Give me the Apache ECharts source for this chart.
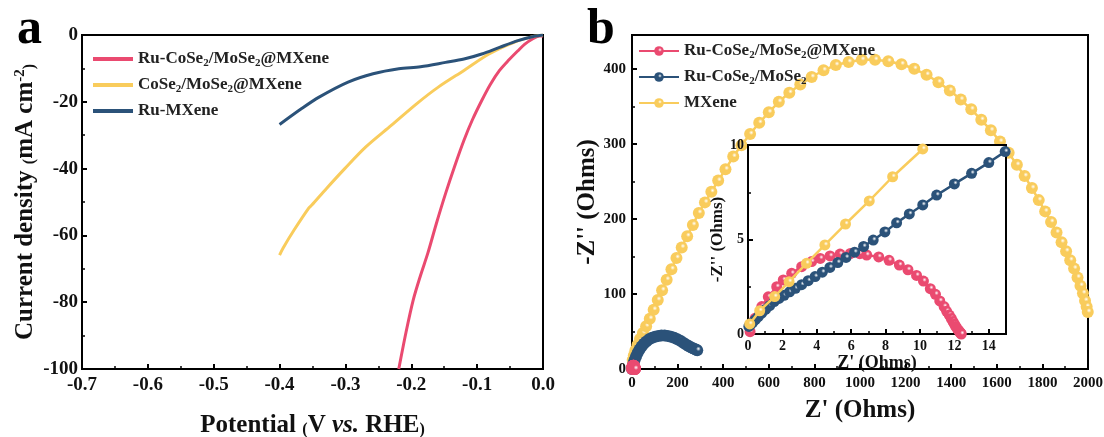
<!DOCTYPE html>
<html><head><meta charset="utf-8">
<script src="https://cdn.jsdelivr.net/npm/echarts@6/dist/echarts.min.js"></script>
<style>html,body{margin:0;padding:0;background:#fff}#c{width:1104px;height:437px}</style>
</head><body><div id="c"></div>
<script>
// ---------- Panel a: LSV ----------
const lsvRuCoX = [0, -0.005, -0.016, -0.028, -0.038, -0.052, -0.066, -0.080, -0.093, -0.107, -0.120, -0.134, -0.148, -0.162, -0.175, -0.186, -0.197, -0.208, -0.219];
const lsvRuCoY = [-0.3, -0.3, -1.2, -2.8, -4.7, -7.5, -10.6, -14.8, -19.6, -25.3, -31.5, -39.2, -47.5, -56.5, -65.4, -72.0, -79.3, -89.0, -100];
const lsvCoX = [0, -0.016, -0.044, -0.082, -0.120, -0.159, -0.192, -0.230, -0.269, -0.301, -0.329, -0.351, -0.356, -0.378, -0.395, -0.400];
const lsvCoY = [0, -0.5, -2.2, -5.7, -10.6, -15.6, -20.6, -27.0, -33.5, -40.0, -46.0, -50.9, -51.9, -58.4, -63.9, -65.9];
const lsvRuMX = [0, -0.016, -0.038, -0.066, -0.093, -0.120, -0.148, -0.186, -0.219, -0.258, -0.296, -0.340, -0.367, -0.400];
const lsvRuMY = [0, -0.5, -1.7, -3.7, -5.7, -7.2, -8.2, -9.5, -10.1, -11.6, -14.1, -18.6, -22.1, -26.8];

// ---------- Panel b: Nyquist ----------
const eisMXeneX = [3, 8, 15, 24, 35, 48, 62, 78, 95, 113, 132, 152, 173, 195, 218, 242, 267, 293, 320, 348, 378, 410, 444, 480, 518, 558, 600, 644, 690, 738, 788, 840, 894, 950, 1008, 1066, 1124, 1182, 1238, 1292, 1344, 1394, 1442, 1488, 1532, 1574, 1614, 1652, 1688, 1722, 1754, 1784, 1812, 1838, 1862, 1884, 1904, 1922, 1939, 1954, 1967, 1978, 1987, 1994, 1999];
const eisMXeneY = [12, 18, 25, 32, 40, 48, 57, 67, 79, 92, 105, 119, 133, 148, 162, 177, 192, 208, 222, 236, 251, 266, 283, 298, 313, 328, 342, 356, 368, 379, 389, 398, 405, 409, 412, 412, 410, 406, 400, 392, 382, 371, 359, 346, 332, 318, 303, 288, 272, 257, 241, 225, 210, 196, 182, 169, 157, 145, 134, 122, 111, 101, 91, 83, 76];
const eisRuCoX = [0, 3, 7, 12, 18, 25, 33, 42, 52, 63, 75, 88, 101, 115, 129, 143, 157, 171, 185, 199, 212, 225, 237, 248, 258, 267, 275, 282, 286];
const eisRuCoY = [0, 4, 8, 12.5, 17, 21.5, 26, 30, 33.5, 36.5, 39.5, 41.5, 43, 44, 44.5, 44.5, 44, 43, 41.5, 39.5, 37.5, 35, 32.5, 30.5, 29, 27.5, 26.5, 25.5, 25];
// inset (low-resistance region)
const insRuCoMxX = [0.12, 0.41, 0.8, 1.18, 1.67, 2.05, 2.54, 3.12, 3.7, 4.2, 4.77, 5.35, 5.95, 6.5, 6.9, 7.6, 8.2, 8.8, 9.3, 9.8, 10.2, 10.6, 10.9, 11.15, 11.4, 11.55, 11.7, 11.82, 11.92, 12.0, 12.08, 12.15, 12.22, 12.28, 12.33, 12.37, 12.4];
const insRuCoMxY = [0.12, 0.83, 1.45, 1.97, 2.5, 2.86, 3.21, 3.56, 3.83, 4.0, 4.13, 4.23, 4.26, 4.25, 4.18, 4.08, 3.9, 3.65, 3.4, 3.1, 2.8, 2.4, 2.1, 1.75, 1.45, 1.2, 1.0, 0.82, 0.66, 0.52, 0.4, 0.3, 0.21, 0.14, 0.08, 0.04, 0];
const insRuCoX = [0.05, 0.15, 0.28, 0.43, 0.6, 0.8, 1.02, 1.26, 1.52, 1.8, 2.1, 2.42, 2.76, 3.12, 3.5, 3.9, 4.32, 4.76, 5.22, 5.7, 6.2, 6.72, 7.28, 7.96, 8.64, 9.38, 10.16, 10.97, 12.0, 13.0, 14.0, 14.95, 15.95];
const insRuCoY = [0.4, 0.5, 0.62, 0.76, 0.92, 1.1, 1.3, 1.5, 1.72, 1.88, 2.05, 2.23, 2.42, 2.61, 2.82, 3.04, 3.27, 3.52, 3.78, 4.05, 4.33, 4.63, 4.97, 5.4, 5.88, 6.35, 6.83, 7.35, 7.94, 8.5, 9.07, 9.65, 10.25];
const insMXeneX = [0.1, 0.68, 1.55, 2.39, 3.4, 4.47, 5.67, 7.05, 8.41, 10.16];
const insMXeneY = [0.53, 1.23, 1.98, 2.77, 3.74, 4.71, 5.82, 7.04, 8.32, 9.79];

const RED = '#EA4A70', YEL = '#F9CC5C', BLU = '#2B5279';
const FONT = 'Liberation Serif';
const zip = (a, b) => a.map((v, i) => [v, b[i]]);
const sphere = c => ({type: 'radial', x: 0.6, y: 0.38, r: 0.65, colorStops: [
  {offset: 0, color: '#ffffff'}, {offset: 0.3, color: c}, {offset: 1, color: c}]});

const labelMap = {
  aRuCo: 'Ru-CoSe{s|2}/MoSe{s|2}@MXene',
  aCo: 'CoSe{s|2}/MoSe{s|2}@MXene',
  aRuM: 'Ru-MXene',
  bRuCoMx: 'Ru-CoSe{s|2}/MoSe{s|2}@MXene',
  bRuCo: 'Ru-CoSe{s|2}/MoSe{s|2}',
  bMX: 'MXene'
};
const legText = {fontFamily: FONT, fontWeight: 'bold', fontSize: 17, color: '#222', lineHeight: 20,
  rich: {s: {fontFamily: FONT, fontWeight: 'bold', fontSize: 11, verticalAlign: 'bottom', lineHeight: 12, color: '#222'}}};

function axisCommon(fs) {
  return {
    axisLine: {show: true, onZero: false, lineStyle: {color: '#000', width: 2}},
    axisTick: {show: true, inside: true, length: 5, lineStyle: {color: '#000', width: 2}},
    minorTick: {show: true, splitNumber: 2, length: 3, lineStyle: {color: '#000', width: 1.5}},
    splitLine: {show: false},
    axisLabel: {fontFamily: FONT, fontWeight: 'bold', fontSize: fs, color: '#111'}
  };
}
const nameStyle = (fs) => ({fontFamily: FONT, fontWeight: 'bold', fontSize: fs, color: '#111',
  rich: {
    p: {fontFamily: FONT, fontWeight: 'bold', fontSize: Math.round(fs * 0.62), color: '#111', verticalAlign: 'bottom'},
    i: {fontFamily: FONT, fontWeight: 'bold', fontStyle: 'italic', fontSize: fs, color: '#111'},
    sup: {fontFamily: FONT, fontWeight: 'bold', fontSize: Math.round(fs * 0.6), color: '#111', verticalAlign: 'top', padding: [0, 0, 8, 0]},
    n: {fontFamily: FONT, fontWeight: 'bold', fontSize: fs, color: '#111'}
  }});

const chart = echarts.init(document.getElementById('c'), null, {renderer: 'canvas'});
const option = {
  backgroundColor: '#fff',
  animation: false,
  title: [
    {text: 'a', left: 12, top: 0, textStyle: {fontFamily: FONT, fontWeight: 'bold', fontSize: 50, color: '#000'}},
    {text: 'b', left: 582, top: 0, textStyle: {fontFamily: FONT, fontWeight: 'bold', fontSize: 50, color: '#000'}}
  ],
  grid: [
    {left: 82, top: 35, width: 461, height: 334, show: true, borderColor: '#000', borderWidth: 2, backgroundColor: 'transparent', outerBoundsMode: 'none', containLabel: false},
    {left: 632, top: 35, width: 456, height: 334, show: true, borderColor: '#000', borderWidth: 2, backgroundColor: 'transparent', outerBoundsMode: 'none', containLabel: false},
    {left: 748, top: 145, width: 258, height: 189, show: true, borderColor: '#000', borderWidth: 2, backgroundColor: '#fff', z: 3, outerBoundsMode: 'none', containLabel: false}
  ],
  legend: [
    {left: 88, top: 44, orient: 'vertical', itemGap: 6, itemWidth: 40, itemHeight: 4, icon: 'rect',
     data: ['aRuCo', 'aCo', 'aRuM'], formatter: n => labelMap[n], textStyle: legText},
    {left: 633, top: 36, orient: 'vertical', itemGap: 6, itemWidth: 40, itemHeight: 12,
     data: ['bRuCoMx', 'bRuCo', 'bMX'], formatter: n => labelMap[n], textStyle: legText}
  ],
  xAxis: [
    Object.assign(axisCommon(19), {gridIndex: 0, type: 'value', min: -0.7, max: 0, interval: 0.1,
      name: 'Potential {p|(}V {i|vs.} RHE{p|)}', nameLocation: 'middle', nameGap: 44, nameTextStyle: nameStyle(25)}),
    Object.assign(axisCommon(15), {gridIndex: 1, type: 'value', min: 0, max: 2000, interval: 200,
      name: "Z' (Ohms)", nameLocation: 'middle', nameGap: 29, nameTextStyle: nameStyle(25)}),
    Object.assign(axisCommon(14), {gridIndex: 2, type: 'value', min: 0, max: 15, interval: 2,
      name: "Z' (Ohms)", nameLocation: 'middle', nameGap: 13, nameTextStyle: nameStyle(18), z: 4})
  ],
  yAxis: [
    Object.assign(axisCommon(19), {gridIndex: 0, type: 'value', min: -100, max: 0, interval: 20,
      name: 'Current density {p|(}mA cm{sup|-2}{p|)}', nameLocation: 'middle', nameGap: 44, nameTextStyle: nameStyle(25)}),
    Object.assign(axisCommon(15), {gridIndex: 1, type: 'value', min: 0, max: 445, interval: 100,
      name: "-Z'' (Ohms)", nameLocation: 'middle', nameGap: 32, nameTextStyle: nameStyle(25)}),
    Object.assign(axisCommon(14), {gridIndex: 2, type: 'value', min: 0, max: 10, interval: 5,
      name: "-Z'' (Ohms)", nameLocation: 'middle', nameGap: 14, nameTextStyle: nameStyle(17), z: 4})
  ],
  series: []
};
option.xAxis[0].axisLabel.formatter = v => (Math.abs(v) < 1e-9 ? '0.0' : v.toFixed(1));
option.xAxis[0].axisLabel.margin = 7;
option.yAxis[0].axisLabel.margin = 4;
option.xAxis[1].axisLabel.formatter = v => String(v);
option.yAxis[1].axisLabel.formatter = v => (v % 100 === 0 ? String(v) : '');
option.yAxis[1].axisLabel.margin = 6;
option.xAxis[1].axisLabel.margin = 7;
option.xAxis[2].axisLabel.formatter = v => (v % 2 === 0 ? String(v) : '');
option.xAxis[2].axisLabel.margin = 5;
option.yAxis[2].axisLabel.margin = 4;

function lineA(name, x, y, color) {
  return {name, type: 'line', xAxisIndex: 0, yAxisIndex: 0, data: zip(x, y), showSymbol: false, symbol: 'none',
    smooth: 0.3, lineStyle: {color, width: 3}, itemStyle: {color}, z: 2};
}
function dotB(name, x, y, color, idx, z, size) {
  return {name, type: 'line', xAxisIndex: idx, yAxisIndex: idx, data: zip(x, y), symbol: 'circle', symbolSize: size,
    showSymbol: true, clip: true, lineStyle: {color, width: 2.5}, itemStyle: {color: sphere(color)}, z: z};
}
option.series.push(
  lineA('aRuCo', lsvRuCoX, lsvRuCoY, RED),
  lineA('aCo', lsvCoX, lsvCoY, YEL),
  lineA('aRuM', lsvRuMX, lsvRuMY, BLU),
  dotB('bRuCoMx', insRuCoMxX, insRuCoMxY, RED, 1, 4, 12),
  dotB('bRuCo', eisRuCoX, eisRuCoY, BLU, 1, 3, 12),
  dotB('bMX', eisMXeneX, eisMXeneY, YEL, 1, 2, 12),
  dotB('bMX', insMXeneX, insMXeneY, YEL, 2, 7, 11),
  dotB('bRuCo', insRuCoX, insRuCoY, BLU, 2, 6, 11),
  dotB('bRuCoMx', insRuCoMxX, insRuCoMxY, RED, 2, 5, 11)
);
chart.setOption(option);
</script>
</body></html>
